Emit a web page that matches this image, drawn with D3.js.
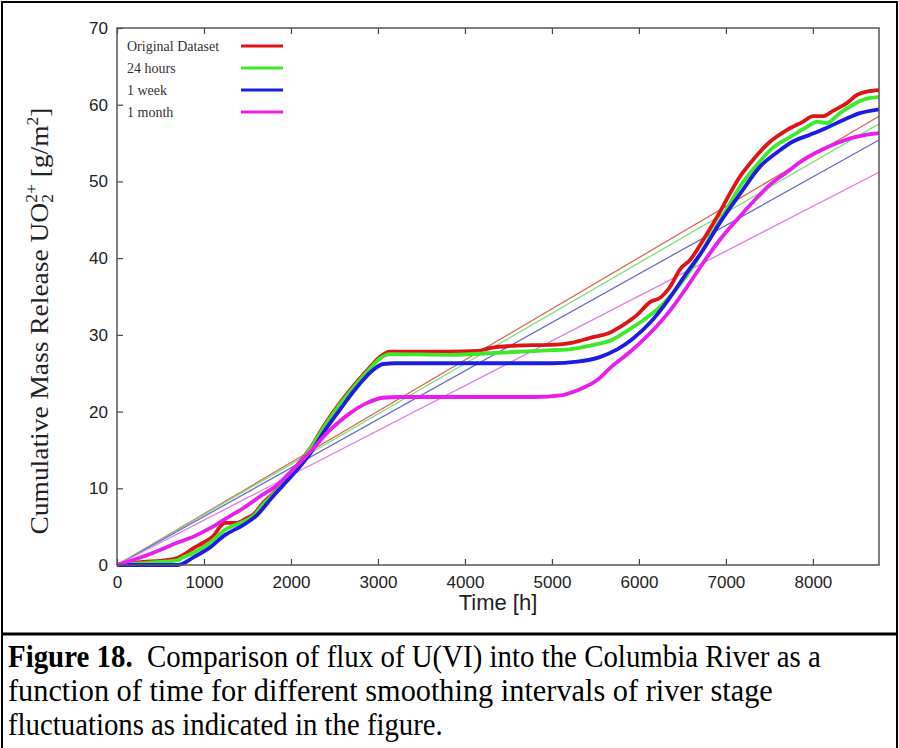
<!DOCTYPE html>
<html>
<head>
<meta charset="utf-8">
<script src="https://cdn.jsdelivr.net/npm/d3@7"></script>
<style>
  body { margin: 0; background: #fff; }
  svg { display: block; }
</style>
</head>
<body>
<div id="figure"></div>
<script>
var width = 899, height = 748;

// values: [time h, g/m2]
var seriesNames = ["Original Dataset", "24 hours", "1 week", "1 month"];
var seriesColors = ["#e01414", "#3ee82a", "#1c1ce2", "#ea1eea"];
var fitColors = ["#d86a5a", "#7ee07a", "#6a6ad0", "#e27ae2"];

var original = [[0,0],[300,0.4],[500,0.55],[690,0.9],[760,1.3],[880,2.2],[990,2.9],[1100,3.7],[1240,5.5],[1380,5.5],[1490,6.1],[1560,6.5],[1680,8.1],[1840,9.8],[1990,12.0],[2100,13.4],[2220,15.2],[2370,18],[2560,21.1],[2760,23.9],[2910,25.8],[3020,27.1],[3140,27.8],[3500,27.8],[3830,27.8],[4140,27.9],[4300,28.3],[4600,28.6],[4980,28.7],[5240,29.0],[5440,29.6],[5670,30.3],[5780,31.0],[5900,31.9],[5980,32.6],[6130,34.3],[6240,34.8],[6360,36.3],[6470,38.5],[6590,39.8],[6740,42.4],[6900,45.4],[7050,48.5],[7160,50.6],[7310,52.8],[7510,55.2],[7700,56.7],[7890,57.8],[8000,58.5],[8120,58.5],[8230,59.2],[8390,60.2],[8510,61.3],[8620,61.7],[8760,61.9]];
var hours24 = [[0,0],[300,0.25],[500,0.4],[690,0.6],[760,1.0],[880,1.6],[1000,2.4],[1100,3.2],[1240,4.6],[1380,5.3],[1500,5.9],[1570,6.4],[1690,8.0],[1840,9.7],[1990,11.9],[2100,13.3],[2220,15.1],[2370,17.8],[2560,20.9],[2760,23.7],[2910,25.6],[3020,26.9],[3140,27.5],[3830,27.4],[4600,27.8],[5000,28.0],[5200,28.1],[5440,28.6],[5700,29.4],[5860,30.5],[6050,31.9],[6240,33.6],[6440,36.1],[6620,38.9],[6820,42.8],[6970,45.6],[7160,49.3],[7360,52.2],[7540,54.4],[7740,55.8],[7930,57.1],[8050,57.8],[8160,57.6],[8310,58.9],[8460,60.0],[8620,60.8],[8760,61.0]];
var week1 = [[0,0],[700,0],[880,1.0],[1070,2.3],[1240,3.9],[1450,5.2],[1610,6.5],[1760,8.5],[1910,10.4],[2070,12.4],[2220,14.5],[2370,17.2],[2560,20.2],[2760,23.2],[2940,25.4],[3060,26.2],[3200,26.3],[4500,26.3],[5000,26.3],[5290,26.5],[5550,27.1],[5750,28.1],[5930,29.5],[6130,31.6],[6340,34.6],[6550,38.1],[6740,41.1],[6930,44.6],[7170,48.5],[7390,51.9],[7590,53.8],[7770,55.2],[7970,56.1],[8160,57.0],[8350,58.0],[8540,58.9],[8760,59.4]];
var month1 = [[0,0],[300,1.1],[500,2.0],[690,2.9],[880,3.7],[1070,4.8],[1260,6.1],[1450,7.4],[1640,8.9],[1840,10.4],[2020,12.4],[2200,14.5],[2450,17.6],[2680,19.8],[2870,21.1],[3060,21.8],[3250,21.9],[4000,21.9],[4800,21.9],[5100,22.1],[5300,22.8],[5520,24.1],[5670,25.7],[5900,27.8],[6160,30.6],[6360,33.2],[6550,36.2],[6740,39.4],[6930,42.4],[7150,45.3],[7350,47.8],[7500,49.5],[7700,51.2],[7890,52.8],[8080,54.0],[8280,55.0],[8460,55.7],[8620,56.1],[8760,56.3]];

// straight fits, from the origin to their value at the last hour
var fitEnds = [58.5, 57.5, 55.4, 51.2];

var xTicks = [0, 1000, 2000, 3000, 4000, 5000, 6000, 7000, 8000];
var yTicks = [0, 10, 20, 30, 40, 50, 60, 70];
var captionLines = [
  "Comparison of flux of U(VI) into the Columbia River as a",
  "function of time for different smoothing intervals of river stage",
  "fluctuations as indicated in the figure."
];

var series = [original, hours24, week1, month1];

var svg = d3.select("#figure")
  .append("svg")
    .attr("width", width)
    .attr("height", height)
    .style("background-color", "#fff");

var x = d3.scaleLinear().domain([0, 8760]).range([117, 879]);
var y = d3.scaleLinear().domain([0, 70]).range([565, 28]);

var line = d3.line()
  .x(function(d) { return x(d[0]); })
  .y(function(d) { return y(d[1]); })
  .curve(d3.curveMonotoneX);

var serif = "'Liberation Serif', 'Times New Roman', serif";
var sans = "'Liberation Sans', Arial, Helvetica, sans-serif";

// axes, ticks pointing inwards
var gx = svg.append("g")
  .attr("transform", "translate(0,565)")
  .call(d3.axisBottom(x).tickValues(xTicks).tickFormat(d3.format("d")).tickSize(-6).tickPadding(11));
var gxTop = svg.append("g")
  .attr("transform", "translate(0,28)")
  .call(d3.axisTop(x).tickValues(xTicks).tickSize(-6).tickFormat(""));
var gy = svg.append("g")
  .attr("transform", "translate(117,0)")
  .call(d3.axisLeft(y).tickValues(yTicks).tickFormat(d3.format("d")).tickSize(-6).tickPadding(9));

[gx, gxTop, gy].forEach(function(g) {
  g.select(".domain").remove();
  g.selectAll("line").attr("stroke", "#444").attr("stroke-width", 1.2);
  g.selectAll("text")
    .style("font-family", sans)
    .style("font-size", "17px")
    .attr("fill", "#222");
});

// fitted straight lines
svg.append("g").selectAll("path")
  .data(fitEnds)
  .enter().append("path")
    .attr("d", function(v) { return line([[0, 0], [8760, v]]); })
    .attr("fill", "none")
    .attr("stroke", function(v, i) { return fitColors[i]; })
    .attr("stroke-width", 1.3);

// the four cumulative curves
svg.append("g").selectAll("path")
  .data(series)
  .enter().append("path")
    .attr("d", line)
    .attr("fill", "none")
    .attr("stroke", function(d, i) { return seriesColors[i]; })
    .attr("stroke-width", 3.8)
    .attr("stroke-linejoin", "round");

// plot frame
svg.append("rect")
  .attr("x", 117)
  .attr("y", 28)
  .attr("width", 762)
  .attr("height", 537)
  .attr("fill", "none")
  .attr("stroke", "#555")
  .attr("stroke-width", 1.5);

// legend
var legend = svg.append("g").selectAll("g")
  .data(seriesNames)
  .enter().append("g")
    .attr("transform", function(d, i) { return "translate(0," + (46 + i * 22) + ")"; });
legend.append("text")
  .attr("x", 127)
  .attr("dy", "0.35em")
  .style("font-family", serif)
  .style("font-size", "14px")
  .attr("fill", "#333")
  .text(function(d) { return d; });
legend.append("line")
  .attr("x1", 241)
  .attr("x2", 283)
  .attr("stroke", function(d, i) { return seriesColors[i]; })
  .attr("stroke-width", 3);

// axis titles
svg.append("text")
  .attr("x", 498)
  .attr("y", 610)
  .attr("text-anchor", "middle")
  .style("font-family", sans)
  .style("font-size", "22px")
  .attr("fill", "#222")
  .text("Time [h]");

var ylab = svg.append("text")
  .attr("text-anchor", "middle")
  .style("font-family", serif)
  .style("font-size", "25px")
  .attr("fill", "#222");
ylab.append("tspan").text("Cumulative Mass Release UO");
ylab.append("tspan").attr("dy", 5).style("font-size", "16px").text("2");
ylab.append("tspan").attr("dx", -8).attr("dy", -16).style("font-size", "16px").text("2+");
ylab.append("tspan").attr("dy", 11).text(" [g/m");
ylab.append("tspan").attr("dy", -10).style("font-size", "16px").text("2");
ylab.append("tspan").attr("dy", 10).text("]");
var ylen = ylab.node().getComputedTextLength();
ylab.attr("transform", "translate(48,321) rotate(-90) scale(" + (436 / ylen) + ",1)");

// figure borders
svg.append("rect")
  .attr("x", 2)
  .attr("y", 2)
  .attr("width", 895)
  .attr("height", 780)
  .attr("fill", "none")
  .attr("stroke", "#000")
  .attr("stroke-width", 2);
svg.append("line")
  .attr("x1", 2)
  .attr("x2", 897)
  .attr("y1", 634)
  .attr("y2", 634)
  .attr("stroke", "#000")
  .attr("stroke-width", 3);

// caption
var capEnds = [821, 773, 443];
var cap = svg.append("g").selectAll("text")
  .data(captionLines)
  .enter().append("text")
    .style("font-family", serif)
    .style("font-size", "31px")
    .attr("fill", "#000");
cap.each(function(d, i) {
  var t = d3.select(this);
  if (i == 0) {
    t.append("tspan").style("font-weight", "bold").text("Figure 18.");
    t.append("tspan").text("\u00a0 " + d);
  } else {
    t.text(d);
  }
  var w = this.getComputedTextLength();
  t.attr("transform", "translate(8," + (667 + i * 34) + ") scale(" + ((capEnds[i] - 8) / w) + ",1)");
});
</script>
</body>
</html>
